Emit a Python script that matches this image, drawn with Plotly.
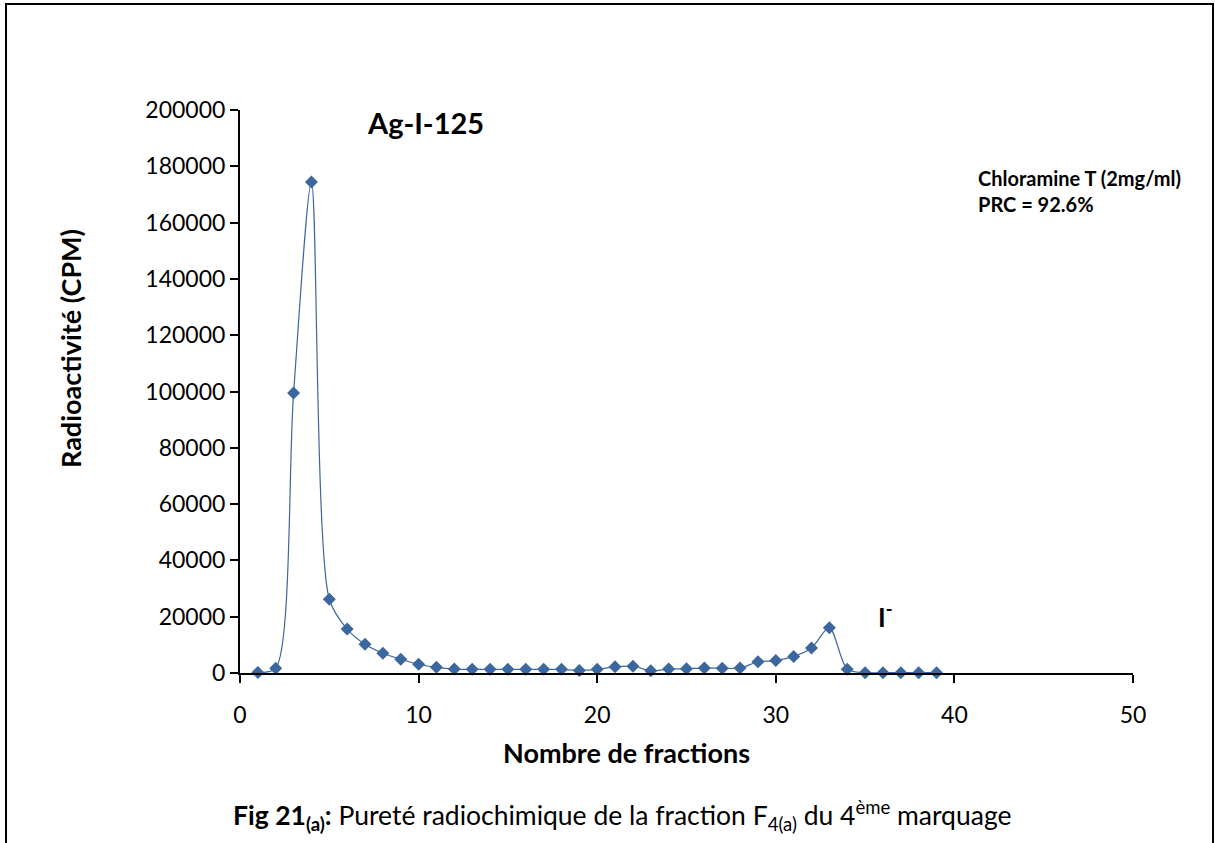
import plotly.graph_objects as go

fractions = list(range(1, 40))
cpm = [200, 1700, 99500, 174400, 26200, 15600, 10200, 7000, 4900, 3100,
       2000, 1400, 1300, 1300, 1300, 1300, 1300, 1300, 900, 1300,
       2200, 2400, 800, 1400, 1500, 1750, 1650, 1750, 4000, 4400,
       5900, 8900, 16100, 1300, 100, 100, 100, 100, 100]

x_ticks = [0, 10, 20, 30, 40, 50]
y_ticks = [0, 20000, 40000, 60000, 80000, 100000, 120000, 140000, 160000, 180000, 200000]

FONT = "Lato"
blue = "#3c679e"

fig = go.Figure()
fig.add_trace(go.Scatter(
    x=fractions, y=cpm, mode="lines+markers",
    line=dict(color=blue, width=1.2, shape="spline", smoothing=0.8),
    marker=dict(symbol="diamond", size=10, color=blue, line=dict(width=0)),
    showlegend=False, cliponaxis=False,
))

fig.update_layout(
    width=1215, height=843,
    margin=dict(l=240, r=82, t=110, b=170),
    paper_bgcolor="white", plot_bgcolor="white",
    font=dict(family=FONT, size=23, color="black"),
    xaxis=dict(range=[0, 50], tickvals=x_ticks, showgrid=False, zeroline=False,
               showline=True, linecolor="black", linewidth=2,
               ticks="outside", ticklen=8, tickwidth=2, tickcolor="black",
               ticklabelstandoff=12,
               tickfont=dict(size=23, family=FONT)),
    yaxis=dict(range=[0, 200000], tickvals=y_ticks, showgrid=False, zeroline=False,
               showline=True, linecolor="black", linewidth=2,
               ticks="outside", ticklen=8, tickwidth=2, tickcolor="black",
               tickformat="d",
               tickfont=dict(size=23, family=FONT)),
)

# axis titles
fig.add_annotation(x=(626 - 240) / 893, y=(673 - 752) / 563, xref="paper", yref="paper",
                   text="<b>Nombre de fractions</b>", showarrow=False,
                   xanchor="center", yanchor="middle", font=dict(size=27, family=FONT))
fig.add_annotation(x=(70 - 240) / 893, y=(673 - 349) / 563, xref="paper", yref="paper",
                   text="<b>Radioactivité (CPM)</b>", showarrow=False, textangle=-90,
                   xanchor="center", yanchor="middle", font=dict(size=27, family=FONT))

fig.add_annotation(x=7.0, y=195700, xref="x", yref="y", text="<b>Ag-I-125</b>",
                   showarrow=False, xanchor="left", yanchor="middle",
                   font=dict(size=29, family=FONT))
fig.add_annotation(x=35.6, y=20600, xref="x", yref="y", text="<b>I<sup>-</sup></b>",
                   showarrow=False, xanchor="left", yanchor="middle",
                   font=dict(size=26, family=FONT))
fig.add_annotation(x=41.2, y=171200, xref="x", yref="y",
                   text="<b>Chloramine T (2mg/ml)<br>PRC = 92.6%</b>",
                   showarrow=False, xanchor="left", yanchor="middle", align="left",
                   font=dict(size=20, family=FONT))
fig.add_annotation(x=(622 - 240) / 893, y=(673 - 815) / 563, xref="paper", yref="paper",
                   text="<b>Fig 21<sub>(a)</sub>:</b> Pureté radiochimique de la fraction F<sub>4(a)</sub> du 4<sup>ème</sup> marquage",
                   showarrow=False, xanchor="center", yanchor="middle",
                   font=dict(size=26.5, family=FONT))

fig.add_shape(type="rect", xref="paper", yref="paper",
              x0=(6 - 240) / 893, x1=(1213 - 240) / 893,
              y0=(673 - 860) / 563, y1=(673 - 4) / 563,
              line=dict(color="black", width=2), layer="below")

fig.write_html("out.html")
